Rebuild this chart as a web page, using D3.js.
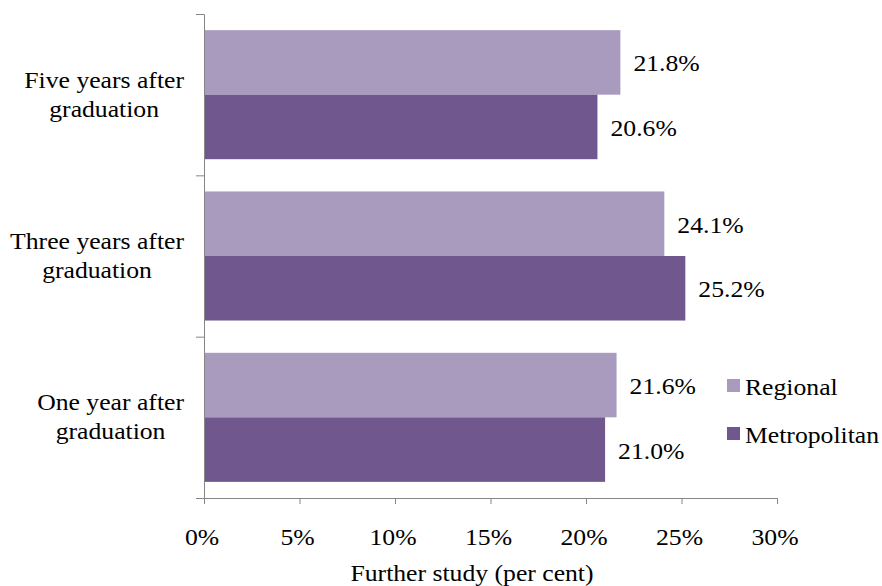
<!DOCTYPE html>
<html><head><meta charset="utf-8">
<script src="https://cdn.jsdelivr.net/npm/d3@7"></script>
<style>body{margin:0;background:#fff}svg{display:block}</style>
</head><body>
<script>
const categories = [["Five years after","graduation"],["Three years after","graduation"],["One year after","graduation"]];
const seriesNames = ["Regional","Metropolitan"];
const regional = [21.8, 24.1, 21.6];
const metropolitan = [20.6, 25.2, 21.0];
const xTicks = [0,5,10,15,20,25,30];
const colors = ["#A99BBE","#70588E"];
const FONT = "'Liberation Serif', 'Times New Roman', Times, serif";
const FS = 24;
const SX = 1.07; // slight horizontal stretch as in the reference

const W=882,H=586;
const svg=d3.select("body").append("svg").attr("width",W).attr("height",H)
  .style("font-family",FONT);
const x=d3.scaleLinear().domain([0,30]).range([204,777]);
const y=d3.scaleBand().domain(d3.range(categories.length)).range([14,498]).paddingInner(0).paddingOuter(0);
const inner=d3.scaleBand().domain([0,1]).range([0,y.bandwidth()]).paddingOuter(0.25).paddingInner(0);
const values=[regional,metropolitan];

function stretchText(sel, ax, ay){
  // draw text at (ax,ay) with horizontal stretch around anchor
  sel.attr("transform",`translate(${ax},${ay}) scale(${SX},1)`).attr("x",0).attr("y",0);
  return sel;
}

const g=svg.append("g");
values.forEach((vals,s)=>{
  g.selectAll(".b"+s).data(vals).join("rect")
    .attr("x",x(0)).attr("y",(d,i)=>y(i)+inner(s))
    .attr("width",d=>x(d)-x(0)).attr("height",inner.bandwidth())
    .attr("fill",colors[s]);
  vals.forEach((d,i)=>{
    stretchText(g.append("text"), x(d)+13, y(i)+inner(s)+inner.bandwidth()/2+9)
      .attr("font-size",FS).text(d.toFixed(1)+"%");
  });
});

// x axis
const xa=d3.axisBottom(x).tickValues(xTicks).tickSize(6).tickFormat("");
const xg=svg.append("g").attr("transform","translate(0,498)").call(xa);
xg.select(".domain").attr("d","M197,0.5H777");
xg.selectAll("line,path").attr("stroke","#868686");
xTicks.forEach(t=>{
  stretchText(svg.append("text"), x(t)-2, 545).attr("text-anchor","middle").attr("font-size",FS).text(t+"%");
});

// y axis
const ya=d3.axisLeft(d3.scaleLinear().domain([0,3]).range([498,14])).tickValues([0,1,2,3]).tickSize(8).tickFormat("");
const yg=svg.append("g").attr("transform","translate(204,0)").call(ya);
yg.selectAll("line,path").attr("stroke","#868686");
yg.select(".domain").attr("d","M-8,14.5H0.5V498");

// category labels: lines centered within a block right-aligned near the axis
categories.forEach((c,i)=>{
  const cy=y(i)+y.bandwidth()/2;
  const grp=svg.append("g");
  const ts=c.map((line,k)=>grp.append("text").attr("font-size",FS).attr("text-anchor","middle").text(line));
  const widths=ts.map(t=>t.node().getComputedTextLength()*SX);
  const bw=Math.max(...widths);
  const cx=184-bw/2;
  ts.forEach((t,k)=>stretchText(t, cx, cy-7+k*29));
});

// axis title
stretchText(svg.append("text"),472,581).attr("text-anchor","middle").attr("font-size",FS).text("Further study (per cent)");

// legend
seriesNames.forEach((n,i)=>{
  const top=379+i*48;
  svg.append("rect").attr("x",727).attr("y",top).attr("width",13).attr("height",13).attr("fill",colors[i]);
  stretchText(svg.append("text"),745,top+16).attr("font-size",FS).text(n);
});
</script>
</body></html>
